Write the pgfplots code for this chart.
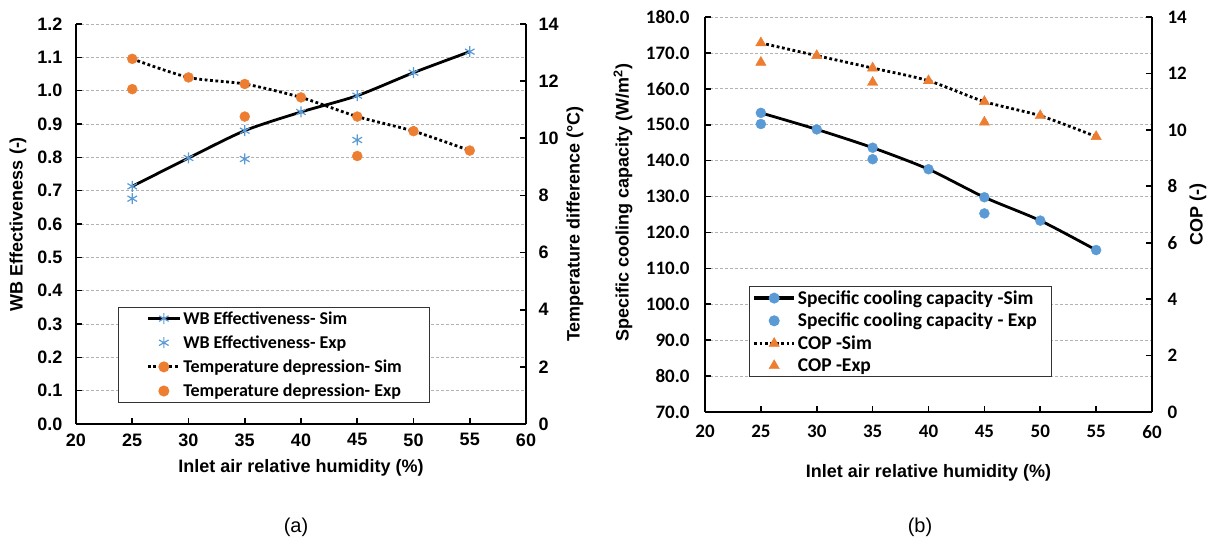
\documentclass[border=0pt]{standalone}
\usepackage{fontspec}
\setmainfont{Liberation Sans}
\newfontfamily\calib{Carlito}
\usepackage{pgfplots}
\pgfplotsset{compat=1.18}

\definecolor{xlblue}{HTML}{5B9BD5}
\definecolor{xlorange}{HTML}{ED7D31}

\newcommand{\fsz}[1]{\fontsize{#1}{#1}\selectfont}

\pgfplotsset{
  excel/.style={
    scale only axis,
    xmin=20, xmax=60,
    tick align=inside,
    major tick length=6pt,
    tick style={black, line width=1.6pt},
    axis line style={-, black, line width=2.2pt},
    /pgf/number format/assume math mode=true,
    clip=false,
  },
  simline/.style={black, line width=2.8pt, smooth, tension=0.45},
  dotline/.style={black, line width=2.8pt, dash pattern=on 2.8pt off 2.6pt, smooth, tension=0.45},
  gridd/.style={ymajorgrids, major grid style={gray!60, line width=0.7pt, dash pattern=on 3pt off 2pt}},
  % marker looks
  mstar/.style={mark=asterisk, mark options={solid, draw=xlblue, line width=1.2pt, mark size=5.5pt}},
  mdotO/.style={mark=*, mark options={solid, draw=xlorange, fill=xlorange, line width=0.4pt, mark size=5pt}},
  mdotB/.style={mark=*, mark options={solid, draw=xlblue, fill=xlblue, line width=0.4pt, mark size=5pt}},
  mtri/.style={mark=triangle*, mark options={solid, draw=xlorange, fill=xlorange, line width=0.4pt, mark size=6pt}},
}

% legend samples, drawn by hand so line and marker keep their own widths
\newcommand{\lgline}[2][2.8pt]{\draw[black,line width=#1] (0pt,0pt) -- (#2,0pt);}
\newcommand{\lgdots}[2][2.8pt]{\draw[black,line width=#1,dash pattern=on 2.8pt off 2.6pt] (0pt,0pt) -- (#2,0pt);}
\newcommand{\lgstar}[1]{\draw[xlblue,line width=1.2pt,mark=asterisk,mark size=5.5pt] plot coordinates {(#1,0pt)};}
\newcommand{\lgdot}[2]{\fill[#1] (#2,0pt) circle (5pt);}
\newcommand{\lgtri}[1]{\draw[xlorange,line width=0.4pt,mark=triangle*,mark size=6pt,
  mark options={fill=xlorange}] plot coordinates {(#1,0pt)};}

\begin{document}
\begin{tikzpicture}
\useasboundingbox (0,0) rectangle (1220pt,551pt);

% =====================================================================
%  (a) effectiveness / temperature difference
% =====================================================================
\begin{axis}[excel, gridd,
  at={(76pt,127pt)}, anchor=south west, width=450pt, height=400pt,
  axis x line*=bottom, axis y line*=left,
  xtick={20,25,...,60},
  ymin=0, ymax=1.2,
  ytick={0,0.1,0.2,0.3,0.4,0.5,0.6,0.7,0.8,0.9,1.0,1.1,1.2},
  tick label style={font=\fsz{18}\bfseries},
  xticklabel style={yshift=-6pt},
  yticklabel style={xshift=-10pt,/pgf/number format/fixed,
    /pgf/number format/fixed zerofill,/pgf/number format/precision=1},
  xlabel={Inlet air relative humidity (\%)},
  xlabel style={at={(axis description cs:0.5,-0.11)}, anchor=center, font=\fsz{18}\bfseries},
  ylabel={WB Effectiveness (-)},
  ylabel style={at={(axis description cs:-0.129,0.5)}, anchor=center, font=\fsz{18}\bfseries},
]
\addplot[simline, mstar] coordinates {
  (25,0.713) (30,0.798) (35,0.880) (40,0.936) (45,0.985) (50,1.054) (55,1.117)
};
\addplot[only marks, mstar] coordinates {
  (25,0.676) (35,0.795) (45,0.852)
};
\end{axis}

\begin{axis}[excel,
  at={(76pt,127pt)}, anchor=south west, width=450pt, height=400pt,
  axis y line*=right, axis x line=none,
  ymin=0, ymax=14, ytick={0,2,...,14},
  tick label style={font=\fsz{18}\bfseries},
  yticklabel style={xshift=9pt},
  ylabel={Temperature difference (°C)},
  ylabel style={at={(axis description cs:1.109,0.5)}, anchor=center, font=\fsz{18}\bfseries},
  legend style={at={(axis description cs:0.093,0.2925)}, anchor=north west,
    draw=black!80, line width=1pt, fill=white, font=\calib\fsz{18}\bfseries,
    inner xsep=2pt, inner ysep=2pt, row sep=6pt},
  legend cell align=left,
]
\addlegendimage{legend image code/.code={\path (-27pt,0pt); \lgline{32pt}\lgstar{16pt}}}
\addlegendentry{WB Effectiveness- Sim\hspace*{24pt}}
\addlegendimage{legend image code/.code={\path (-27pt,0pt) (32pt,0pt); \lgstar{16pt}}}
\addlegendentry{WB Effectiveness- Exp\hspace*{24pt}}
\addlegendimage{legend image code/.code={\path (-27pt,0pt); \lgdots{32pt}\lgdot{xlorange}{16pt}}}
\addlegendentry{Temperature depression- Sim\hspace*{24pt}}
\addlegendimage{legend image code/.code={\path (-27pt,0pt) (32pt,0pt); \lgdot{xlorange}{16pt}}}
\addlegendentry{Temperature depression- Exp\hspace*{24pt}}

\addplot[dotline, mdotO, forget plot] coordinates {
  (25,12.78) (30,12.13) (35,11.90) (40,11.43) (45,10.76) (50,10.25) (55,9.57)
};
\addplot[only marks, mdotO, forget plot] coordinates {
  (25,11.72) (35,10.76) (45,9.38)
};
\end{axis}

% =====================================================================
%  (b) cooling capacity / COP
% =====================================================================
\begin{axis}[excel, gridd,
  at={(705pt,139pt)}, anchor=south west, width=447pt, height=395pt,
  axis x line*=bottom, axis y line*=left,
  xtick={20,25,...,60},
  ymin=70, ymax=180, ytick={70,80,...,180},
  tick label style={font=\calib\fsz{19}\bfseries},
  xticklabel style={yshift=-10pt},
  yticklabel style={xshift=-12pt,/pgf/number format/fixed,
    /pgf/number format/fixed zerofill,/pgf/number format/precision=1},
  xlabel={Inlet air relative humidity (\%)},
  xlabel style={at={(axis description cs:0.5,-0.1544)}, anchor=center, font=\fsz{18}\bfseries},
  ylabel={Specific cooling capacity (W/m\textsuperscript{2})},
  ylabel style={at={(axis description cs:-0.1834,0.53)}, anchor=center, font=\fsz{18}\bfseries},
]
\addplot[simline, mdotB] coordinates {
  (25,153.3) (30,148.7) (35,143.6) (40,137.6) (45,129.8) (50,123.3) (55,115.1)
};
\addplot[only marks, mdotB] coordinates {
  (25,150.2) (35,140.4) (45,125.3)
};
\end{axis}

\begin{axis}[excel,
  at={(705pt,139pt)}, anchor=south west, width=447pt, height=395pt,
  axis y line*=right, axis x line=none,
  ymin=0, ymax=14, ytick={0,2,...,14},
  tick label style={font=\calib\fsz{19}\bfseries},
  yticklabel style={xshift=12pt},
  ylabel={COP (-)},
  ylabel style={at={(axis description cs:1.103,0.5)}, anchor=center, font=\fsz{18}\bfseries},
  legend style={at={(axis description cs:0.0984,0.319)}, anchor=north west,
    draw=black!80, line width=1pt, fill=white, font=\calib\fsz{19.5}\bfseries,
    inner xsep=3pt, inner ysep=2pt, row sep=3.5pt},
  legend cell align=left,
]
\addlegendimage{legend image code/.code={\lgline[3.4pt]{40pt}\lgdot{xlblue}{20pt}}}
\addlegendentry{Specific cooling capacity -Sim\hspace*{10pt}}
\addlegendimage{legend image code/.code={\path (0pt,0pt) (40pt,0pt); \lgdot{xlblue}{20pt}}}
\addlegendentry{Specific cooling capacity - Exp\hspace*{10pt}}
\addlegendimage{legend image code/.code={\lgdots[3.2pt]{40pt}\lgtri{20pt}}}
\addlegendentry{COP -Sim}
\addlegendimage{legend image code/.code={\path (0pt,0pt) (40pt,0pt); \lgtri{20pt}}}
\addlegendentry{COP -Exp}

\addplot[dotline, mtri, forget plot] coordinates {
  (25,13.08) (30,12.63) (35,12.19) (40,11.74) (45,11.00) (50,10.50) (55,9.76)
};
\addplot[only marks, mtri, forget plot] coordinates {
  (25,12.39) (35,11.68) (45,10.27)
};
\end{axis}

\node[font=\fsz{20}] at (296pt,24pt) {(a)};
\node[font=\fsz{20}] at (920pt,24pt) {(b)};

\end{tikzpicture}
\end{document}
